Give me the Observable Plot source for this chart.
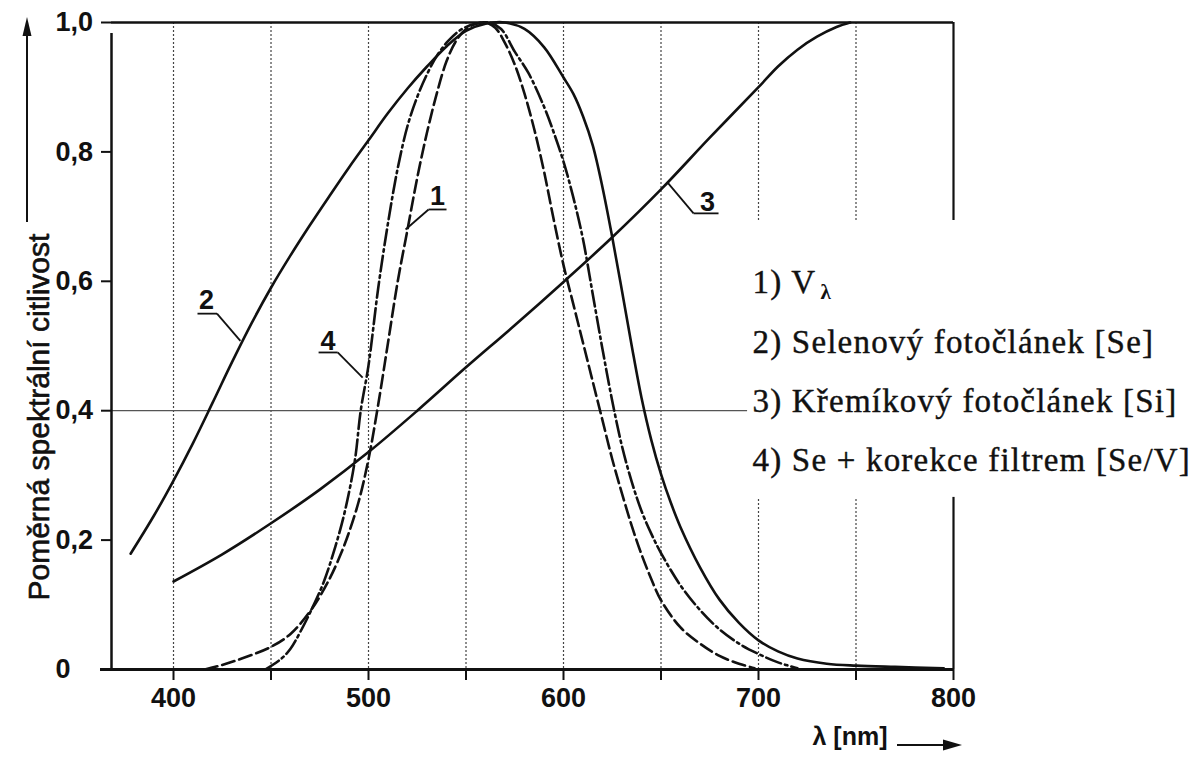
<!DOCTYPE html>
<html>
<head>
<meta charset="utf-8">
<script src="https://cdn.jsdelivr.net/npm/d3@7"></script>
<script src="https://cdn.jsdelivr.net/npm/@observablehq/plot@0.6"></script>
<style>
  html, body { margin: 0; padding: 0; background: #fff; }
  #chart svg { display: block; }
</style>
</head>
<body>
<div id="chart"></div>
<script>
// ---------- data ----------
const X_MIN = 368.2, X_MAX = 800;

// 1) V_lambda (dashed)
const vLambdaNm  = [416, 425, 435, 450, 460, 471, 480, 486, 490, 495, 500, 505, 510, 515, 520, 525, 530, 535, 540, 545, 550, 555, 560, 565, 570, 575, 580, 585, 590, 595, 600, 605, 610, 615, 620, 625, 630, 635, 640, 645, 650, 660, 670, 680, 690, 698];
const vLambdaVal = [0, 0.007, 0.017, 0.035, 0.055, 0.094, 0.14, 0.18, 0.212, 0.26, 0.325, 0.41, 0.505, 0.6, 0.68, 0.76, 0.83, 0.89, 0.94, 0.972, 0.99, 0.998, 1.0, 0.992, 0.968, 0.935, 0.89, 0.835, 0.77, 0.695, 0.625, 0.565, 0.505, 0.445, 0.385, 0.325, 0.272, 0.222, 0.178, 0.14, 0.107, 0.065, 0.04, 0.021, 0.009, 0.002];

// 2) Selenium photocell (solid)
const seNm  = [378, 390, 400, 410, 420, 430, 440, 450, 460, 470, 480, 490, 500, 510, 520, 530, 540, 550, 560, 570, 580, 590, 600, 605, 610, 615, 620, 625, 630, 635, 640, 645, 650, 655, 660, 670, 680, 690, 700, 710, 720, 735, 750, 770, 795];
const seVal = [0.179, 0.238, 0.292, 0.35, 0.412, 0.475, 0.535, 0.59, 0.64, 0.687, 0.732, 0.776, 0.818, 0.86, 0.898, 0.932, 0.963, 0.987, 0.998, 1.0, 0.99, 0.962, 0.915, 0.89, 0.855, 0.81, 0.745, 0.668, 0.585, 0.50, 0.42, 0.355, 0.302, 0.258, 0.22, 0.158, 0.108, 0.072, 0.045, 0.028, 0.017, 0.009, 0.006, 0.004, 0.002];

// 3) Silicon photocell (solid)
const siNm  = [400, 425, 450, 475, 500, 525, 550, 575, 600, 625, 650, 675, 700, 710, 720, 730, 740, 747];
const siVal = [0.136, 0.178, 0.226, 0.278, 0.336, 0.40, 0.467, 0.532, 0.599, 0.668, 0.742, 0.822, 0.90, 0.932, 0.958, 0.978, 0.993, 1.0];

// 4) Se + filter correction (dash-dot)
const seFiltNm  = [447, 455, 460, 465, 471, 477, 483, 488, 493, 496, 500, 505, 510, 515, 520, 525, 530, 535, 541, 548, 555, 562, 568, 575, 582, 590, 595, 600, 605, 610, 615, 620, 625, 630, 635, 640, 645, 650, 660, 670, 680, 690, 700, 710, 720];
const seFiltVal = [0, 0.016, 0.032, 0.058, 0.094, 0.135, 0.19, 0.246, 0.323, 0.40, 0.47, 0.59, 0.69, 0.775, 0.84, 0.885, 0.92, 0.948, 0.972, 0.99, 0.998, 1.0, 0.99, 0.955, 0.922, 0.87, 0.83, 0.785, 0.73, 0.665, 0.58, 0.495, 0.415, 0.345, 0.29, 0.245, 0.21, 0.18, 0.13, 0.092, 0.062, 0.04, 0.024, 0.011, 0.002];

// ticks, grid, labels
const xTickNm    = [400, 450, 500, 550, 600, 650, 700, 750, 800];
const xLabelNm   = [400, 500, 600, 700, 800];
const yTickVal   = [0, 0.2, 0.4, 0.6, 0.8, 1.0];
const gridFullNm = [400, 450, 500, 550, 600, 650];
const gridCutNm  = [700, 750];
const legendLines = ["1) V", "2) Selenový fotočlánek [Se]", "3) Křemíkový fotočlánek [Si]", "4) Se + korekce filtrem [Se/V]"];
const curveLabelText = ["1", "2", "3", "4"];
const curveLabelNm   = [535.4, 416.9, 673.8, 479.2];
const curveLabelVal  = [0.731, 0.570, 0.722, 0.507];
// leader lines for curve labels (underline + pointer), in data units
const leaderX1 = [530.8, 530.8, 412.3, 422.3, 653.3, 666.7, 474.4, 484.2];
const leaderY1 = [0.711, 0.711, 0.550, 0.550, 0.753, 0.705, 0.490, 0.490];
const leaderX2 = [540.0, 519.0, 422.3, 434.3, 666.7, 679.5, 484.2, 497.0];
const leaderY2 = [0.711, 0.680, 0.550, 0.508, 0.705, 0.705, 0.490, 0.451];

const rows = (nm, val) => nm.map((x, i) => ({x, y: val[i]}));
const leaders = leaderX1.map((d, i) => ({x1: d, y1: leaderY1[i], x2: leaderX2[i], y2: leaderY2[i]}));
const curveLabels = curveLabelText.map((t, i) => ({t, x: curveLabelNm[i], y: curveLabelVal[i]}));

const sans = "'Liberation Sans', Arial, Helvetica, sans-serif";
const serif = "'Liberation Serif', 'Times New Roman', serif";
const ink = "#111";
const gridStyle = {stroke: "#444", strokeWidth: 1.2, strokeDasharray: "2,2"};
const CUT_TOP = 0.694, CUT_BOTTOM = 0.266;

// arrows beside axis titles (decoration)
const axisArrows = () => {
  const g = d3.create("svg:g").attr("fill", ink).attr("stroke", ink);
  g.append("line").attr("x1", 27).attr("y1", 222).attr("x2", 27).attr("y2", 34).attr("stroke-width", 2);
  g.append("path").attr("d", "M27,17 L22.5,36 L31.5,36 Z").attr("stroke", "none");
  g.append("line").attr("x1", 897).attr("y1", 745).attr("x2", 945).attr("y2", 745).attr("stroke-width", 2);
  g.append("path").attr("d", "M962,745 L943,739.5 L943,750.5 Z").attr("stroke", "none");
  return g.node();
};

const chart = Plot.plot({
  width: 1197,
  height: 758,
  marginLeft: 111,
  marginRight: 244,
  marginTop: 22,
  marginBottom: 89,
  x: {domain: [X_MIN, X_MAX], axis: null},
  y: {domain: [0, 1], axis: null},
  style: {background: "#fff", color: ink, fontFamily: sans, overflow: "visible"},
  marks: [
    // grid
    Plot.ruleX(gridFullNm, gridStyle),
    Plot.ruleX(gridCutNm, {...gridStyle, y1: CUT_TOP, y2: 1}),
    Plot.ruleX(gridCutNm, {...gridStyle, y1: 0, y2: CUT_BOTTOM}),
    Plot.ruleY([0.4], {x1: X_MIN, x2: 694.4, stroke: "#555", strokeWidth: 1.2}),
    // frame
    Plot.ruleX([X_MAX], {y1: CUT_TOP, y2: 1, stroke: ink, strokeWidth: 2.2}),
    Plot.ruleX([X_MAX], {y1: 0, y2: CUT_BOTTOM, stroke: ink, strokeWidth: 2.2}),
    Plot.ruleY([1], {x1: X_MIN, x2: X_MAX, stroke: ink, strokeWidth: 2.5}),
    Plot.ruleY([0], {x1: X_MIN, x2: X_MAX, insetLeft: -11, stroke: ink, strokeWidth: 3}),
    Plot.ruleX([X_MIN], {y1: 0, y2: 1, insetBottom: -11, stroke: ink, strokeWidth: 2.5}),
    // axes
    Plot.axisX({ticks: xTickNm, tickSize: 11, tickPadding: 7, strokeWidth: 2, label: null,
      tickFormat: d => xLabelNm.includes(d) ? String(d) : "",
      fontSize: 27, fontWeight: "bold", fill: ink}),
    Plot.axisY({ticks: yTickVal, tickSize: 10, tickPadding: 46, textAnchor: "start", strokeWidth: 2, label: null,
      tickFormat: d => d === 0 ? "0" : d.toFixed(1).replace(".", ","),
      fontSize: 27, fontWeight: "bold", fill: ink}),
    // curves
    Plot.line(rows(seNm, seVal), {x: "x", y: "y", curve: "catmull-rom", stroke: ink, strokeWidth: 2.6}),
    Plot.line(rows(siNm, siVal), {x: "x", y: "y", curve: "catmull-rom", stroke: ink, strokeWidth: 2.6}),
    Plot.line(rows(vLambdaNm, vLambdaVal), {x: "x", y: "y", curve: "catmull-rom", stroke: ink, strokeWidth: 2.6, strokeDasharray: "13,5"}),
    Plot.line(rows(seFiltNm, seFiltVal), {x: "x", y: "y", curve: "catmull-rom", stroke: ink, strokeWidth: 2.6, strokeDasharray: "16,4,2.5,4"}),
    // curve labels
    Plot.link(leaders, {x1: "x1", y1: "y1", x2: "x2", y2: "y2", stroke: ink, strokeWidth: 1.8}),
    Plot.text(curveLabels, {x: "x", y: "y", text: "t", fontSize: 27, fontWeight: "bold", fill: ink}),
    // legend
    ...legendLines.map((t, i) => Plot.text([t], {frameAnchor: "top-left", dx: 641, dy: 247.4 + i * 59.3,
      textAnchor: "start", fontFamily: serif, fontSize: 33, fill: ink, stroke: ink, strokeWidth: 0.4})),
    Plot.text(["λ"], {frameAnchor: "top-left", dx: 709, dy: 262, textAnchor: "start",
      fontFamily: serif, fontSize: 21, fontWeight: "bold", fill: ink}),
    // axis titles
    Plot.text(["Poměrná spektrální citlivost"], {frameAnchor: "top-left", dx: -84, dy: 578, rotate: -90,
      textAnchor: "start", fontSize: 30, fill: ink, stroke: ink, strokeWidth: 0.6}),
    Plot.text(["λ [nm]"], {frameAnchor: "bottom-left", dx: 701, dy: 75, textAnchor: "start",
      fontSize: 25, fontWeight: "bold", fill: ink}),
    axisArrows
  ]
});
// letter spacing of the serif legend lines
d3.select(chart).selectAll("text")
  .filter(function() { return legendLines.includes(this.textContent); })
  .style("letter-spacing", "1.2px");
document.getElementById("chart").append(chart);
</script>
</body>
</html>
